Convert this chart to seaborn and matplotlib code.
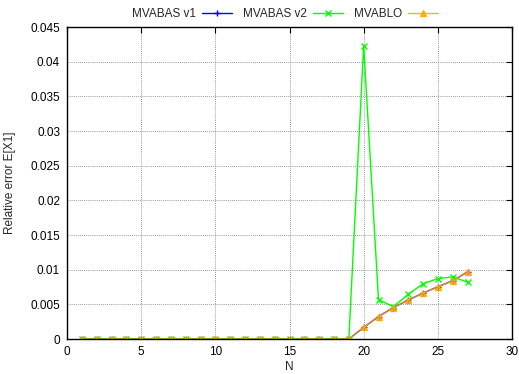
import pandas as pd
import matplotlib.pyplot as plt
import seaborn as sns

# Data
n = list(range(1, 28))
zeros = [0.0] * 19
mvabas_v1 = zeros + [0.00167, 0.00324, 0.00453, 0.00562, 0.00662, 0.00753, 0.0084, 0.00967]
mvabas_v2 = zeros + [0.0423, 0.00567, 0.00467, 0.00643, 0.00796, 0.00872, 0.00896, 0.0082]
mvablo = zeros + [0.00167, 0.00324, 0.00453, 0.00562, 0.00662, 0.00753, 0.0084, 0.00967]

series = ["MVABAS v1", "MVABAS v2", "MVABLO"]
colors = ["#0000ff", "#00ff00", "#ffa500"]
markers = ["+", "x", "^"]

df = pd.DataFrame({"N": n, "MVABAS v1": mvabas_v1, "MVABAS v2": mvabas_v2, "MVABLO": mvablo})
long = df.melt(id_vars="N", var_name="series", value_name="err")

sns.set_style("white")
plt.rcParams["font.family"] = ["Liberation Sans", "DejaVu Sans"]

fig = plt.figure(figsize=(5.19, 3.74), dpi=100)
ax = fig.add_axes([67 / 519, 1 - 339 / 374, (512 - 67) / 519, (339 - 27) / 374])

for name, c, m in zip(series, colors, markers):
    sub = long[long["series"] == name]
    sns.lineplot(data=sub, x="N", y="err", ax=ax, color=c, marker=m, markersize=4,
                 markeredgecolor=c, markeredgewidth=1, linewidth=1,
                 alpha=0.85 if name == "MVABLO" else 1, label=name)

ax.set_xlim(0, 30)
ax.set_ylim(0, 0.045)
ax.set_xticks(range(0, 31, 5))
yt = [i * 0.005 for i in range(10)]
ax.set_yticks(yt)
ax.set_yticklabels(["0"] + [("%.3f" % v).rstrip("0") for v in yt[1:]])
ax.tick_params(direction="in", labelsize=8.5, length=4, pad=5, top=True, right=True, colors="black")
ax.grid(True, linestyle=(0, (1, 1.5)), color="#777777", linewidth=0.6)
for s in ax.spines.values():
    s.set_color("black")
    s.set_linewidth(1)
ax.set_xlabel("N", fontsize=8.5, labelpad=2)
ax.set_ylabel("Relative error E[X1]", fontsize=8.5, labelpad=10)

ax.legend(loc="lower center", bbox_to_anchor=(0.49, 1.0), ncol=3, frameon=False,
          markerfirst=False, fontsize=8.5, handlelength=2.5, columnspacing=1.0,
          handletextpad=0.5, borderaxespad=0.2)

plt.savefig("out.png", dpi=100)
plt.close()
